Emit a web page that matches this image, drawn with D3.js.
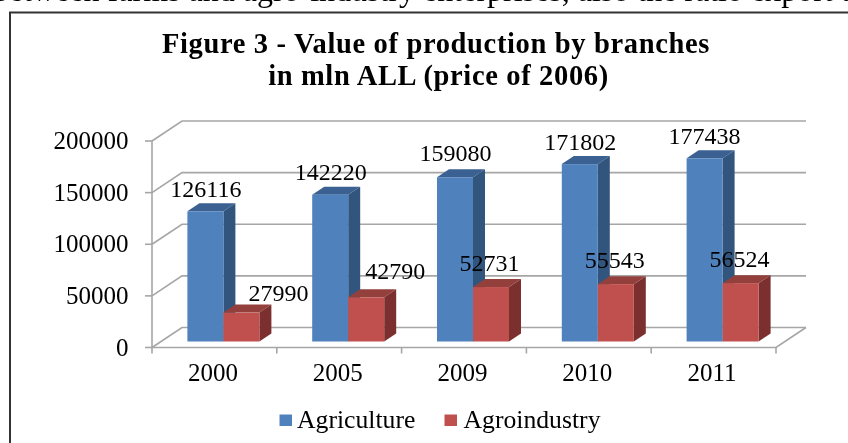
<!DOCTYPE html>
<html><head><meta charset="utf-8">
<script src="https://cdn.jsdelivr.net/npm/d3@7/dist/d3.min.js"></script>
<style>html,body{margin:0;padding:0;background:#fff;overflow:hidden}svg{display:block;filter:blur(0.35px)}text{font-family:"Liberation Serif",serif;fill:#000}</style>
</head><body><svg id="c" width="848" height="443"></svg>
<script>
const years=["2000","2005","2009","2010","2011"];
const agriculture=[126116,142220,159080,171802,177438];
const agroindustry=[27990,42790,52731,55543,56524];
const yTicks=[0,50000,100000,150000,200000];
const seriesNames=["Agriculture","Agroindustry"];
const titleLines=["Figure 3 - Value of production by branches","in mln ALL (price of 2006)"];
const pageLine="between farms and agro-industry enterprises, also the ratio export to";

// hand-placed data label nudges (layout, from the plotted bar)
const agriNudge=[[-5.5,-6],[-5.5,-7],[-5.5,-8],[-5.5,-6],[-6,-6]];
const agroNudge=[[31,-4],[23,-10],[-7.5,-8],[-7,-8],[-7,-8]];

const svg=d3.select("#c");
const depth={x:30,y:-20};
const x0=d3.scaleBand().domain(years).range([152,776]);
const x1=d3.scaleBand().domain(seriesNames).range([0,72]);
const y=d3.scaleLinear().domain([0,200000]).range([347.5,141]);
const grid="#a6a6a6";

svg.append("path").attr("d","M10,443V12.5H848").attr("fill","none").attr("stroke","#333").attr("stroke-width",2);
svg.append("text").attr("x",-7).attr("y",1).attr("font-size",32).text(pageLine);

const title=svg.append("g").attr("font-weight","bold").attr("font-size",28.5).attr("letter-spacing",0.65).attr("text-anchor","middle");
titleLines.forEach((t,i)=>title.append("text").attr("x",[436,438.5][i]).attr("y",[53,84.5][i]).text(t));

// walls
const g=svg.append("g").attr("fill","none").attr("stroke",grid).attr("stroke-width",1.6);
yTicks.forEach(v=>{
  g.append("path").attr("d",`M${x0.range()[0]},${y(v)}l${depth.x},${depth.y}H${x0.range()[1]+depth.x}`);
  g.append("path").attr("d",`M145,${y(v)}H152`);
});
g.append("path").attr("d",`M152,${y(0)}V${y(200000)}`);
g.append("path").attr("d",`M152,${y(0)}H${x0.range()[1]}l${depth.x},${depth.y}`);
x0.domain().concat(["end"]).forEach((d,i)=>{
  const xx=x0.range()[0]+i*x0.step();
  g.append("path").attr("d",`M${xx},${y(0)}v6`);
});

const fr=0.3, dd=0.4; // bar front plane and bar depth as fractions of the floor depth
const cols={Agriculture:["#4f81bd","#3a6191","#32557e"],Agroindustry:["#c0504d","#93403d","#7b302f"]};
function bar(yr,s,v){
  const w=x1.bandwidth();
  const xl=x0(yr)+(x0.bandwidth()-72)/2+x1(s)+depth.x*fr;
  const base=y(0)+depth.y*fr, top=base-(y(0)-y(v));
  const ex=depth.x*dd, ey=depth.y*dd;
  const c=cols[s], b=svg.append("g");
  b.append("path").attr("d",`M${xl},${top}l${ex},${ey}h${w}l${-ex},${-ey}z`).attr("fill",c[1]);
  b.append("path").attr("d",`M${xl+w},${top}l${ex},${ey}V${base+ey}l${-ex},${-ey}z`).attr("fill",c[2]);
  b.append("rect").attr("x",xl).attr("y",top).attr("width",w).attr("height",base-top).attr("fill",c[0]);
  return {cx:xl+w/2+ex/2,top:top+ey};
}
const pos=years.map((yr,i)=>[bar(yr,"Agriculture",agriculture[i]),bar(yr,"Agroindustry",agroindustry[i])]);

years.forEach((yr,i)=>{
  svg.append("text").attr("x",x0(yr)+x0.bandwidth()/2-1.5).attr("y",381).attr("font-size",25).attr("text-anchor","middle").text(yr);
  const a=pos[i][0], b=pos[i][1];
  svg.append("text").attr("x",a.cx+agriNudge[i][0]).attr("y",a.top+agriNudge[i][1]).attr("font-size",24).attr("text-anchor","middle").text(agriculture[i]);
  svg.append("text").attr("x",b.cx+agroNudge[i][0]).attr("y",b.top+agroNudge[i][1]).attr("font-size",24).attr("text-anchor","middle").text(agroindustry[i]);
});
yTicks.forEach(v=>svg.append("text").attr("x",128.5).attr("y",y(v)+8).attr("font-size",25).attr("text-anchor","end").text(v));

const leg=[{x:279.5,tx:297},{x:444.5,tx:463.5}];
seriesNames.forEach((n,i)=>{
  svg.append("rect").attr("x",leg[i].x).attr("y",414.5).attr("width",12.5).attr("height",11.5).attr("fill",cols[n][0]);
  svg.append("text").attr("x",leg[i].tx).attr("y",427.5).attr("font-size",25.7).text(n);
});
</script></body></html>
